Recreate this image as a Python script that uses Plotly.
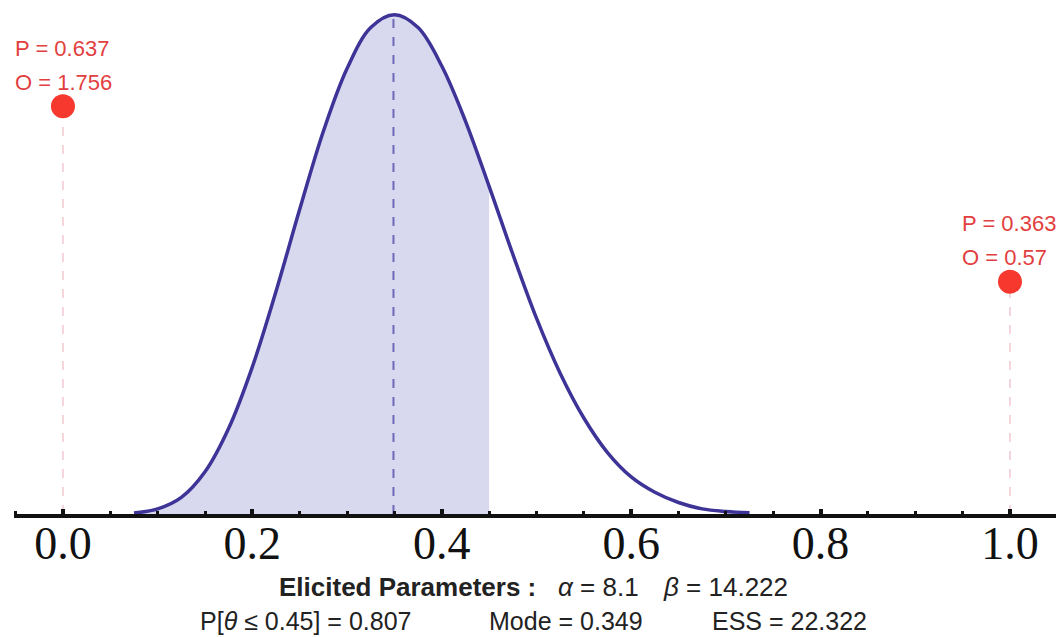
import plotly.graph_objects as go

# ---- data ----
theta = [0.075, 0.1, 0.125, 0.15, 0.175, 0.2, 0.225, 0.25, 0.275, 0.3,
         0.325, 0.35, 0.375, 0.4, 0.425, 0.45, 0.475, 0.5, 0.525, 0.55, 0.575,
         0.6, 0.625, 0.65, 0.675, 0.7, 0.725]
density = [0.007, 0.04, 0.13, 0.33, 0.67, 1.15, 1.74, 2.38, 2.99, 3.48,
           3.80, 3.90, 3.80, 3.50, 3.07, 2.56, 2.03, 1.53, 1.10, 0.75, 0.48,
           0.29, 0.17, 0.09, 0.04, 0.02, 0.01]
shade_limit = 0.45
mode_x = 0.349
mode_peak = 3.91
point_x = [0.0, 1.0]
point_p = [0.637, 0.363]
point_o = [1.756, 0.57]
tick_vals = [0.0, 0.2, 0.4, 0.6, 0.8, 1.0]
tick_text = ["0.0", "0.2", "0.4", "0.6", "0.8", "1.0"]
alpha, beta = 8.1, 14.222
p_le = 0.807
mode_val = 0.349
ess = 22.322

CURVE = "rgb(62,52,152)"
FILL = "rgb(216,216,238)"
RED = "rgb(246,56,46)"
RED_TXT = "rgb(226,64,64)"
PINK = "rgb(242,200,210)"

sx = [t for t in theta if t <= shade_limit]
sy = [d for t, d in zip(theta, density) if t <= shade_limit]

fig = go.Figure()
fig.add_trace(go.Scatter(x=sx, y=sy, mode="lines", line=dict(width=0, shape="spline"),
                         fill="tozeroy", fillcolor=FILL, hoverinfo="skip", showlegend=False))
fig.add_trace(go.Scatter(x=[mode_x, mode_x], y=[0, mode_peak], mode="lines",
                         line=dict(color="rgb(112,104,186)", width=2, dash="dash"),
                         showlegend=False))
fig.add_trace(go.Scatter(x=theta, y=density, mode="lines",
                         line=dict(color=CURVE, width=3.5, shape="spline"),
                         showlegend=False))
for px_, pp in zip(point_x, point_p):
    fig.add_trace(go.Scatter(x=[px_, px_], y=[0, pp], yaxis="y2", mode="lines",
                             line=dict(color=PINK, width=1.5, dash="dash"),
                             showlegend=False))
fig.add_trace(go.Scatter(x=point_x, y=point_p, yaxis="y2", mode="markers",
                         marker=dict(color=RED, size=24), cliponaxis=False,
                         showlegend=False))

for px_, pp, oo in zip(point_x, point_p, point_o):
    for label, ys in ((f"P = {pp:.3f}", 58), (f"O = {oo:g}", 24)):
        fig.add_annotation(x=px_, y=pp, xref="x", yref="y2", text=label,
                           showarrow=False, xanchor="left", yanchor="middle",
                           xshift=-50, yshift=ys,
                           font=dict(family="Liberation Sans, Arial", size=22, color=RED_TXT))

W0 = 14.0
PW = 1042.0
PB = 514.0


def px2paper(px):
    return (px - W0) / PW


def py2paper(py):
    return (PB - py) / PB


FONT = dict(family="Liberation Sans, Arial", size=26, color="#222")
FONT2 = dict(family="Liberation Sans, Arial", size=25, color="#222")
fig.add_annotation(x=px2paper(538), y=py2paper(587), xref="paper", yref="paper",
                   text="<b>Elicited Parameters :</b>", showarrow=False,
                   xanchor="right", yanchor="middle", font=FONT)
fig.add_annotation(x=px2paper(556), y=py2paper(587), xref="paper", yref="paper",
                   text=f"<i>α</i> = {alpha}", showarrow=False,
                   xanchor="left", yanchor="middle", font=FONT)
fig.add_annotation(x=px2paper(661), y=py2paper(587), xref="paper", yref="paper",
                   text=f"<i>β</i> = {beta}", showarrow=False,
                   xanchor="left", yanchor="middle", font=FONT)
fig.add_annotation(x=px2paper(198), y=py2paper(621), xref="paper", yref="paper",
                   text=f"P[<i>θ</i> ≤ {shade_limit}] = {p_le}", showarrow=False,
                   xanchor="left", yanchor="middle", font=FONT2)
fig.add_annotation(x=px2paper(487), y=py2paper(621), xref="paper", yref="paper",
                   text=f"Mode = {mode_val}", showarrow=False,
                   xanchor="left", yanchor="middle", font=FONT2)
fig.add_annotation(x=px2paper(710), y=py2paper(621), xref="paper", yref="paper",
                   text=f"ESS = {ess}", showarrow=False,
                   xanchor="left", yanchor="middle", font=FONT2)

ytop = PB / 128.0
fig.update_layout(
    width=1056, height=637,
    margin=dict(l=14, r=0, t=0, b=637 - PB),
    paper_bgcolor="white", plot_bgcolor="white",
    xaxis=dict(range=[-0.0517, 1.0486], showgrid=False, zeroline=False,
               showline=True, linewidth=4, linecolor="#111",
               ticks="inside", ticklen=5, tickwidth=4, tickcolor="#111",
               tickvals=tick_vals, ticktext=tick_text, ticklabelstandoff=-14,
               minor=dict(dtick=0.05, ticks="inside", ticklen=3, tickwidth=3, tickcolor="#111"),
               tickfont=dict(family="Liberation Serif, Times New Roman", size=46, color="#111")),
    yaxis=dict(range=[0, ytop], visible=False, fixedrange=True),
    yaxis2=dict(range=[0, ytop / 5.0], visible=False, overlaying="y"),
)

fig.write_html("out.html")
